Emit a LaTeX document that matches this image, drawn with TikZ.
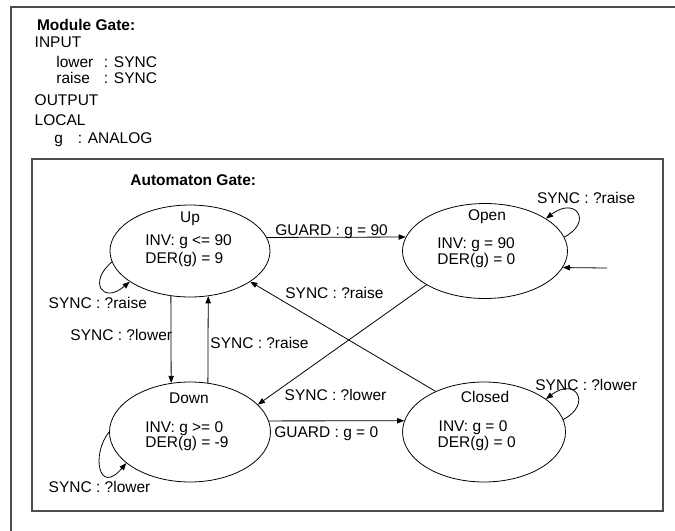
\documentclass[tikz,border=0pt]{standalone}
\usepackage{fontspec}
\setmainfont{Liberation Sans}
\usetikzlibrary{shapes.geometric,arrows.meta}
\begin{document}
\begin{tikzpicture}[font=\fontsize{9.8}{12}\selectfont,line width=.5pt,
	state/.style={draw,ellipse,inner sep=0pt},
	txt/.style={anchor=base west,inner sep=0pt},
	arr/.style={-{Triangle[length=4.5pt,width=3.4pt]}},
	frame/.style={draw=black!70,line width=.9pt}]
	\useasboundingbox (0,0) rectangle (15,11.8);
	\draw[frame] (.244,0)--(.244,11.644)--(15,11.644);
	% module header
	\node[txt] (modname) at(.815,11.122){\textbf{Module Gate:}};
	\node[txt] (input) at(.763,10.744){INPUT};
	\node[txt] (lower) at(1.244,10.3){lower};
	\node[txt] (lowertype) at(2.3,10.3){: SYNC};
	\node[txt] (raise) at(1.245,9.944){raise};
	\node[txt] (raisetype) at(2.3,9.944){: SYNC};
	\node[txt] (output) at(.763,9.456){OUTPUT};
	\node[txt] (local) at(.763,9.011){LOCAL};
	\node[txt] (gvar) at(1.2,8.604){g};
	\node[txt] (gtype) at(1.72,8.604){: ANALOG};
	% automaton
	\draw[frame] (.711,.444) rectangle (14.733,8.267);
	\node[txt] (autname) at(2.889,7.678){\textbf{Automaton Gate:}};
	\node[state,minimum width=3.556cm,minimum height=2.044cm] (Up) at(4.222,6.222){};
	\node[state,minimum width=3.667cm,minimum height=2.111cm] (Open) at(10.778,6.222){};
	\node[state,minimum width=3.578cm,minimum height=2.222cm] (Down) at(4.222,2.2){};
	\node[state,minimum width=3.622cm,minimum height=2.222cm] (Closed) at(10.756,2.2){};
	\node[anchor=base,inner sep=0pt] (upname) at(4.222,6.862){Up};
	\node[txt] (upinv) at(3.222,6.344){INV: g <= 90};
	\node[txt] (upder) at(3.222,5.944){DER(g) = 9};
	\node[anchor=base,inner sep=0pt] (openname) at(10.822,6.9){Open};
	\node[txt] (openinv) at(9.711,6.278){INV: g = 90};
	\node[txt] (opender) at(9.711,5.922){DER(g) = 0};
	\node[anchor=base,inner sep=0pt] (downname) at(4.2,2.833){Down};
	\node[txt] (downinv) at(3.222,2.189){INV: g >= 0};
	\node[txt] (downder) at(3.222,1.856){DER(g) = -9};
	\node[anchor=base,inner sep=0pt] (closedname) at(10.778,2.856){Closed};
	\node[txt] (closedinv) at(9.74,2.222){INV: g = 0};
	\node[txt] (closedder) at(9.718,1.856){DER(g) = 0};
	% transitions
	\draw[arr] (Up.10)--(Open.170);
	\node[txt] (g90) at(6.111,6.567){GUARD : g = 90};
	\draw[arr] (Down.8)--(Closed.172);
	\node[txt] (g0) at(6.089,2.078){GUARD : g = 0};
	\draw[arr] (Up.247)--(Down.111);
	\node[txt] (updown) at(1.556,4.233){SYNC : ?lower};
	\draw[arr] (Down.70)--(Up.292);
	\node[txt] (downup) at(4.667,4.056){SYNC : ?raise};
	\draw[arr] (Closed.140)--(Up.-27);
	\node[txt] (closedup) at(6.333,5.167){SYNC : ?raise};
	\draw[arr] (Open.210)--(Down.22);
	\node[txt] (opendown) at(6.318,2.9){SYNC : ?lower};
	\coordinate (init) at(13.489,5.844);
	\draw[arr] (init)--(Open.-12.5);
	% self loops
	\draw[arr] (Up.188) .. controls +(-.533,-.444) and +(-.6,-.511) .. (Up.207);
	\node[txt] (uploop) at(1.074,4.944){SYNC : ?raise};
	\draw[arr] (Down.180) .. controls +(-.4,-.49) and +(-.62,-.73) .. (Down.206);
	\node[txt] (downloop) at(1.074,.856){SYNC : ?lower};
	\draw[arr] (Open.10) .. controls +(.644,.333) and +(.667,.511) .. (Open.28);
	\node[txt] (openloop) at(11.926,7.278){SYNC : ?raise};
	\draw[arr] (Closed.9) .. controls +(.644,.333) and +(.667,.511) .. (Closed.28);
	\node[txt] (closedloop) at(11.889,3.122){SYNC : ?lower};
\end{tikzpicture}
\end{document}
